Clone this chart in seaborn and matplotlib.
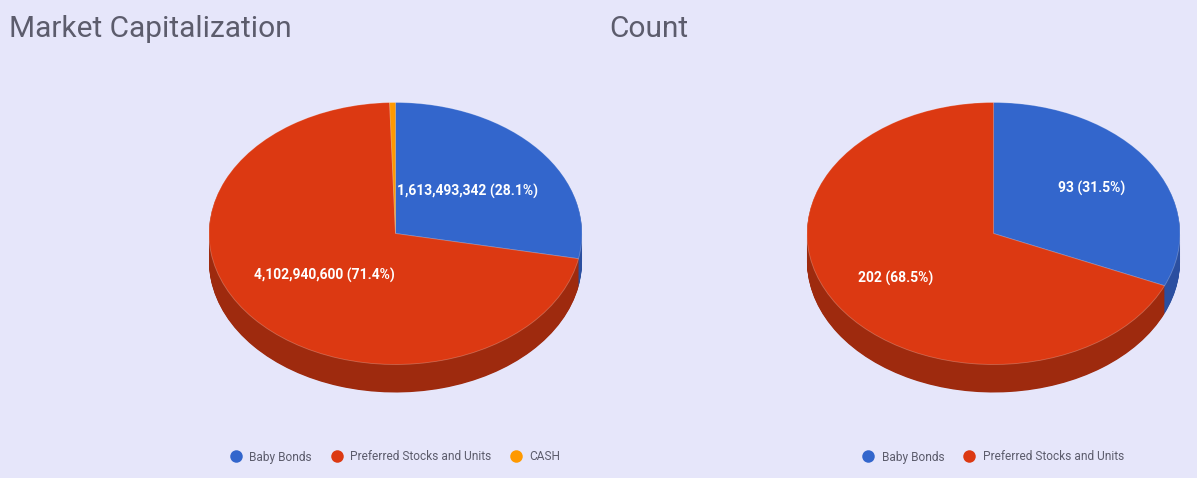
import numpy as np
import matplotlib
matplotlib.use('Agg')
import matplotlib.pyplot as plt
from matplotlib.lines import Line2D
import seaborn as sns

# data
cap_labels = ['Baby Bonds', 'Preferred Stocks and Units', 'CASH']
cap_values = [1613493342, 4102940600, 29000000]
count_labels = ['Baby Bonds', 'Preferred Stocks and Units']
count_values = [93, 202]

top_colors = ['#3366CC', '#DC3912', '#FF9900']
side_colors = ['#2B4FA0', '#9E2A0E', '#B86E00']
bg = '#E6E6FA'
text_grey = '#5c5c6c'

sns.set_theme(style="white")
plt.rcParams['font.family'] = ['Roboto', 'DejaVu Sans']

W, H = 1197, 478
fig = plt.figure(figsize=(W / 100, H / 100), dpi=100)
fig.patch.set_facecolor(bg)

RX, RY, DEPTH = 186.5, 131.0, 28.0   # pixels


def make_pct(values):
    total = float(sum(values))
    def fmt(pct):
        if pct < 1:
            return ''
        # pie works in float32, so look the exact value up again
        v = min(values, key=lambda x: abs(100.0 * x / total - pct))
        return f"{v:,} ({100.0 * v / total:.1f}%)"
    return fmt


def draw_3d_pie(cx, cy, values, labels, title, title_x, pct_dist):
    x0, x1 = -1.1, 1.1
    d = DEPTH / RY
    y0, y1 = -1.15 - d, 1.1
    left = cx - (-x0) * RX
    bottom = (H - cy) - (-y0) * RY
    ax = fig.add_axes([left / W, bottom / H, (x1 - x0) * RX / W, (y1 - y0) * RY / H])
    ax.set_facecolor(bg)
    n = len(values)

    # side wall: stack of darker pies shifted down
    for off in np.linspace(d, 0.005, 40):
        ax.pie(values, colors=side_colors[:n], startangle=90, counterclock=False,
               center=(0, -off), radius=1.0,
               wedgeprops=dict(linewidth=0, antialiased=True))

    # top face
    wedges, _, autotexts = ax.pie(values, colors=top_colors[:n], startangle=90,
                                  counterclock=False, radius=1.0,
                                  autopct=make_pct(values), pctdistance=pct_dist,
                                  wedgeprops=dict(linewidth=0.6, edgecolor=(1, 1, 1, 0.25)))
    for t in autotexts:
        t.set_color('white')
        t.set_fontsize(10)
        t.set_fontweight('bold')

    ax.set_aspect('auto')
    ax.set_xlim(x0, x1)
    ax.set_ylim(y0, y1)
    ax.axis('off')

    fig.text(title_x / W, (H - 29) / H, title, fontsize=21.5, color=text_grey,
             ha='left', va='center')

    handles = [Line2D([0], [0], marker='o', linestyle='none', markersize=9,
                      markerfacecolor=top_colors[i], markeredgewidth=0)
               for i in range(n)]
    leg = fig.legend(handles, labels, loc='center', bbox_to_anchor=(cx / W, (H - 457) / H),
                     ncol=n, frameon=False, fontsize=8.6, handlelength=0.9,
                     handletextpad=0.7, columnspacing=1.6)
    for t in leg.get_texts():
        t.set_color(text_grey)


draw_3d_pie(395.5, 233.5, cap_values, cap_labels, 'Market Capitalization', 9, 0.5)
draw_3d_pie(993.5, 233.5, count_values, count_labels, 'Count', 609, 0.63)

plt.savefig("out.png", dpi=100, facecolor=bg)
plt.close()
